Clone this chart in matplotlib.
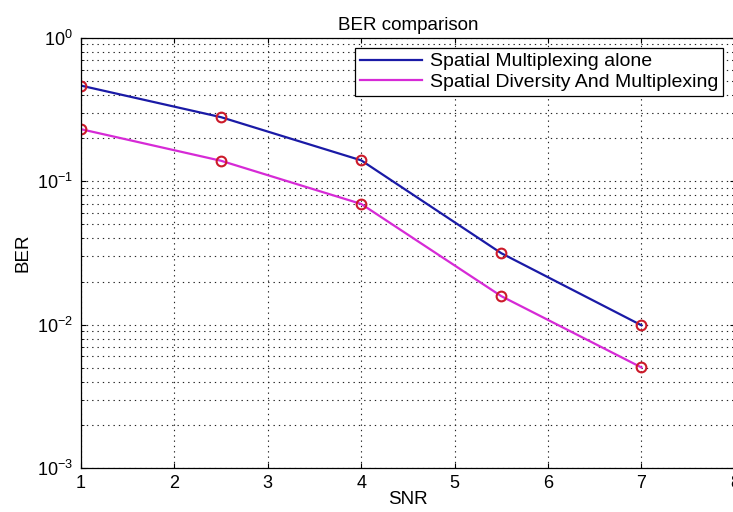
import matplotlib
matplotlib.use("Agg")
import matplotlib.pyplot as plt
from matplotlib.ticker import LogLocator, NullFormatter

plt.rcParams['font.family'] = ['Liberation Sans', 'DejaVu Sans']
plt.rcParams['mathtext.fontset'] = 'custom'
plt.rcParams['mathtext.rm'] = 'Liberation Sans'

snr = [1, 2.5, 4, 5.5, 7]
ber_smux = [0.465, 0.28, 0.14, 0.0315, 0.0099]
ber_sdm = [0.231, 0.139, 0.0695, 0.0158, 0.00503]
labels = ['Spatial Multiplexing alone', 'Spatial Diversity And Multiplexing']

fig = plt.figure(figsize=(7.33, 5.12), dpi=100)
ax = fig.add_axes([0.1105, 0.0859, 0.892, 0.840])

ax.semilogy(snr, ber_smux, color='#1a1aa6', lw=1.6, label=labels[0])
ax.semilogy(snr, ber_sdm, color='#d62ad6', lw=1.6, label=labels[1])
# red circle markers on both curves
ax.semilogy(snr, ber_smux, 'o', mfc='none', mec='#cc1a2a', ms=7, mew=1.5)
ax.semilogy(snr, ber_sdm, 'o', mfc='none', mec='#cc1a2a', ms=7, mew=1.5)

ax.set_xlim(1, 8)
ax.set_ylim(1e-3, 1)
ax.yaxis.set_major_locator(LogLocator(base=10, numticks=10))
ax.yaxis.set_minor_locator(LogLocator(base=10, subs=range(2, 10), numticks=20))
ax.yaxis.set_minor_formatter(NullFormatter())

grid_kw = dict(ls=(0, (1.2, 3.6)), color='#222222', lw=0.8)
ax.grid(True, which='major', **grid_kw)
ax.grid(True, which='minor', axis='y', **grid_kw)
ax.tick_params(which='both', direction='in', top=True, right=True, labelsize=13)
ax.tick_params(axis='x', pad=5)
ax.tick_params(axis='y', pad=6)
for s in ax.spines.values():
    s.set_linewidth(0.9)

ax.set_title('BER comparison', fontsize=13.5, pad=6)
ax.set_xlabel('SNR', fontsize=13.5, labelpad=-1)
ax.set_ylabel('BER', fontsize=13.5, labelpad=4)

leg = ax.legend(loc='upper right', bbox_to_anchor=(0.988, 0.986), fontsize=14,
                fancybox=False, framealpha=1, edgecolor='black',
                handlelength=3.2, handletextpad=0.4, borderpad=0.25,
                labelspacing=0.15, borderaxespad=0.2)
leg.get_frame().set_linewidth(0.9)

fig.savefig('out.png', dpi=100)
